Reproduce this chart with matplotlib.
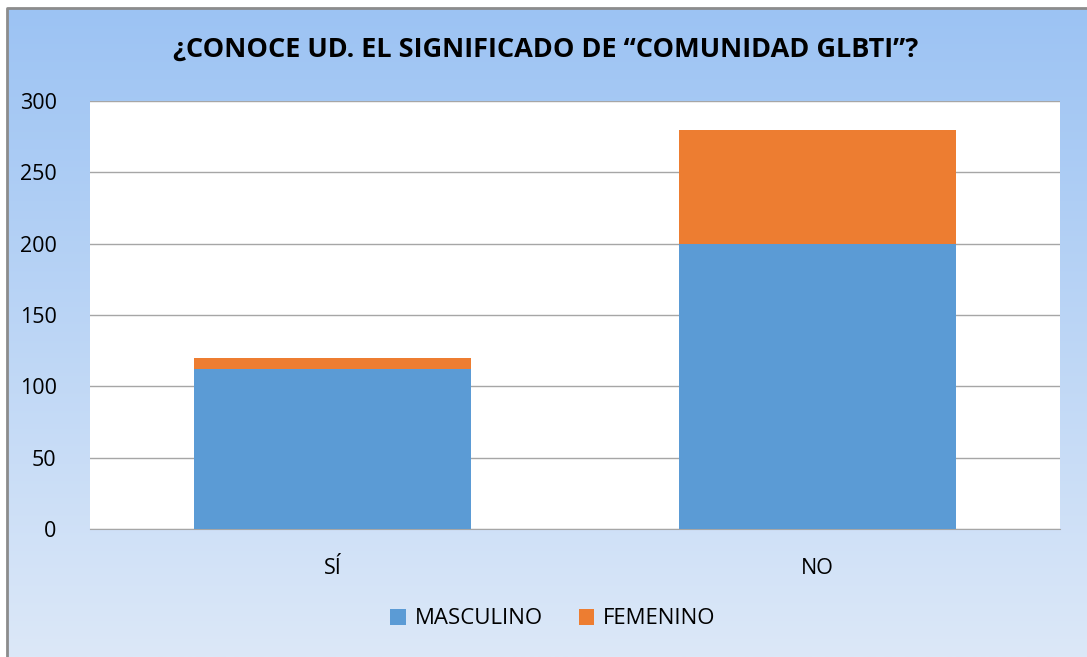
import numpy as np
import matplotlib.pyplot as plt

# data
categories = ["SÍ", "NO"]
masculino = [112, 200]
femenino = [8, 80]
series_names = ["MASCULINO", "FEMENINO"]
yticks = [0, 50, 100, 150, 200, 250, 300]

BLUE = "#5B9BD5"
ORANGE = "#ED7D31"
GRID = "#A6A6A6"

plt.rcParams["font.family"] = ["Open Sans", "DejaVu Sans"]

W, H = 1087, 657
fig = plt.figure(figsize=(W / 100, H / 100), dpi=100)
fig.patch.set_facecolor("white")

# gradient background of the chart frame
bg = fig.add_axes([0, 0, 1, 1], zorder=-10)
bg.set_xlim(0, W)
bg.set_ylim(H, 0)
bg.axis("off")
grad = np.linspace(0, 1, 256).reshape(-1, 1)
top = np.array([0x9C, 0xC3, 0xF3]) / 255
bot = np.array([0xDC, 0xE8, 0xF8]) / 255
img = top + (bot - top) * grad[:, :, None]
bg.imshow(img, extent=[7, W, H, 8], aspect="auto", zorder=0)
bg.plot([7, 7, W], [H, 8, 8], color="#8C8C8C", lw=2, zorder=1)

# plot area
x0, x1, ytop, ybot = 90, 1060, 101, 529
ax = fig.add_axes([x0 / W, 1 - ybot / H, (x1 - x0) / W, (ybot - ytop) / H])
ax.set_facecolor("white")

x = np.arange(len(categories))
width = 0.57
ax.bar(x, masculino, width, color=BLUE, label=series_names[0], zorder=3)
ax.bar(x, femenino, width, bottom=masculino, color=ORANGE, label=series_names[1], zorder=3)

ax.set_xlim(-0.5, len(categories) - 0.5)
ax.set_ylim(0, 300)
ax.set_yticks(yticks)
ax.set_xticks(x)
ax.set_xticklabels(categories)
ax.yaxis.grid(True, color=GRID, lw=1, zorder=0)
ax.set_axisbelow(True)
for s in ["left", "right", "top"]:
    ax.spines[s].set_visible(False)
ax.spines["bottom"].set_color(GRID)
ax.tick_params(axis="both", length=0, labelsize=15.5, colors="black")
ax.tick_params(axis="y", pad=24)
ax.tick_params(axis="x", pad=21)

fig.text(546 / W, 1 - 50 / H, "¿CONOCE UD. EL SIGNIFICADO DE “COMUNIDAD GLBTI”?",
         ha="center", va="center", fontsize=19.5, fontweight="bold")

fig.legend(loc="center", bbox_to_anchor=(553 / W, 1 - 619 / H), ncol=2, frameon=False,
           fontsize=16, handlelength=0.7, handleheight=0.7, columnspacing=1.6,
           handletextpad=0.4)

fig.savefig("out.png", dpi=100)
